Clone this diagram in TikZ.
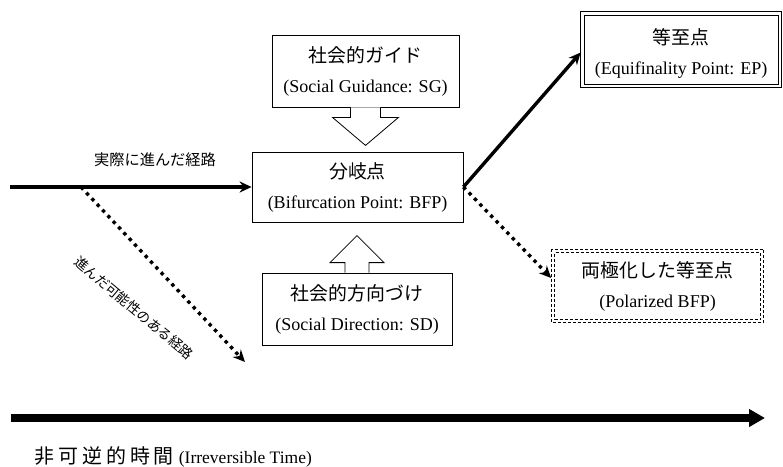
\documentclass[tikz,border=0pt]{standalone}
\usepackage{fontspec}
\setmainfont{Liberation Serif}
\newfontfamily\jp{Noto Sans CJK JP}[Scale=1.05]
\usetikzlibrary{arrows.meta,calc}
\begin{document}
\begin{tikzpicture}[x=1pt,y=-1pt,
  box/.style={draw, line width=0.8pt, inner sep=0pt, align=center,
    font=\fontsize{18}{30}\selectfont},
  thickarrow/.style={line width=3.4pt, -{Stealth[length=12pt,width=11pt]}},
  dotarrow/.style={line width=3.4pt, dash pattern=on 3.4pt off 4.4pt,
    -{Stealth[length=12pt,width=11pt]}},
  blockarrow/.style={draw, line width=0.8pt, fill=white, line join=miter},
  dashbox/.style={dash pattern=on 3pt off 2pt},
  lbl/.style={inner sep=0pt}]
\useasboundingbox (0,0) rectangle (783,466);

% boxes
\node[box, minimum width=187pt, minimum height=72pt] (sg) at (365.5,71)
  {{\jp 社会的ガイド}\\(Social Guidance: SG)};
\node[box, minimum width=211pt, minimum height=70pt] (bfp) at (357.5,187)
  {{\jp 分岐点}\\(Bifurcation Point: BFP)};
\node[box, minimum width=190pt, minimum height=72pt] (sd) at (357,309)
  {{\jp 社会的方向づけ}\\(Social Direction: SD)};
\node[box, line width=0.7pt, minimum width=194pt, minimum height=69pt] (ep) at (681,49.5)
  {{\jp\rule{0pt}{24pt}等至点}\\(Equifinality Point: EP)};
\draw[line width=0.7pt] ([xshift=-3pt,yshift=3pt]ep.north west)
  rectangle ([xshift=3pt,yshift=-3pt]ep.south east);
\node[box, dashbox, line width=0.7pt, minimum width=206pt, minimum height=67pt] (pol) at (657.5,286)
  {{\jp 両極化した等至点}\\(Polarized BFP)};
\draw[dashbox, line width=0.7pt] ([xshift=-2.8pt,yshift=2.8pt]pol.north west)
  rectangle ([xshift=2.8pt,yshift=-2.8pt]pol.south east);

% block arrows
\draw[blockarrow] ($(sg.south)+(-15,0)$) -- ++(0,10) -- ++(-18,0)
  -- ($(sg.south)+(0,38)$) -- ($(sg.south)+(33,10)$) -- ++(-18,0)
  -- ($(sg.south)+(15,0)$);
\draw[blockarrow] ($(sd.north)+(-12,0)$) -- ++(0,-10) -- ++(-15,0)
  -- ($(sd.north)+(0,-37)$) -- ($(sd.north)+(27,-10)$) -- ++(-15,0)
  -- ($(sd.north)+(12,0)$);

% paths
\coordinate (start) at (10,187);
\coordinate (dstart) at (81,187);
\coordinate (dend) at (245,362);
\draw[thickarrow] (start) -- (bfp.west);
\draw[dotarrow] (dstart) -- (dend);
\draw[thickarrow] (bfp.east) -- ([xshift=-3pt,yshift=-3pt]ep.west);
\draw[dotarrow] (bfp.east) -- ([xshift=-3pt,yshift=8pt]pol.west);

\node[lbl] (actual) at (155,160) {\jp\fontsize{14.5}{15}\selectfont 実際に進んだ経路};
\node[lbl, rotate=-40] (possible) at (134,308)
  {\jp\fontsize{13}{14}\selectfont 進んだ可能性のある経路};

% time axis
\coordinate (t0) at (11,418);
\coordinate (t1) at (765,418);
\draw[line width=8pt, -{Triangle[length=16pt,width=17pt]}] (t0) -- (t1);
\node[lbl, anchor=west, font=\fontsize{17.5}{18}\selectfont] (time) at (34,457)
  {{\jp\fontsize{19}{19}\selectfont 非\hspace{4pt}可\hspace{4pt}逆\hspace{4pt}的\hspace{4pt}時\hspace{4pt}間}\hspace{5pt}(Irreversible Time)};
\end{tikzpicture}
\end{document}
